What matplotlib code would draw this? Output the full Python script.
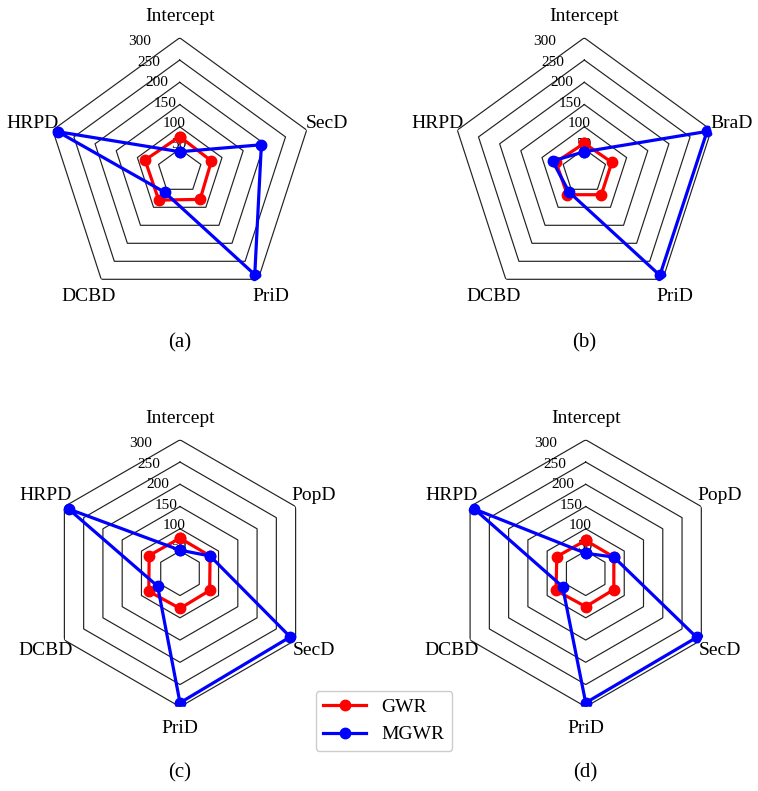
import numpy as np
import matplotlib
matplotlib.use('Agg')
import matplotlib.pyplot as plt

plt.rcParams['font.family'] = ['Liberation Serif', 'DejaVu Serif']

# bandwidths
labels_a = ['Intercept', 'SecD', 'PriD', 'DCBD', 'HRPD']
gwr_a = [78, 75, 78, 80, 82]
mgwr_a = [44, 193, 287, 58, 288]

labels_b = ['Intercept', 'BraD', 'PriD', 'DCBD', 'HRPD']
gwr_b = [63, 65, 65, 65, 67]
mgwr_b = [44, 290, 289, 58, 75]

labels_c = ['Intercept', 'PopD', 'SecD', 'PriD', 'DCBD', 'HRPD']
gwr_c = [79, 78, 77, 79, 81, 80]
mgwr_c = [52, 78, 286, 291, 58, 289]

labels_d = ['Intercept', 'PopD', 'SecD', 'PriD', 'DCBD', 'HRPD']
gwr_d = [74, 73, 73, 75, 77, 75]
mgwr_d = [45, 73, 288, 291, 60, 289]

rings = [50, 100, 150, 200, 250, 300]
panel_tags = ['(a)', '(b)', '(c)', '(d)']

W, H = 758, 791
R = 133.5  # px
centers = [(179.7, 171.3), (584.3, 171.3), (180.0, 573.3), (585.7, 573.3)]
tag_y = [343, 343, 773, 773]

fig = plt.figure(figsize=(W/100, H/100), dpi=100)

panels = [(labels_a, gwr_a, mgwr_a), (labels_b, gwr_b, mgwr_b),
          (labels_c, gwr_c, mgwr_c), (labels_d, gwr_d, mgwr_d)]

for i, (labels, gwr, mgwr) in enumerate(panels):
    cx, cy = centers[i]
    ax = fig.add_axes([(cx-R)/W, (H-cy-R)/H, 2*R/W, 2*R/H], projection='polar')
    ax.set_theta_zero_location('N')
    ax.set_theta_direction(-1)
    n = len(labels)
    theta = np.linspace(0, 2*np.pi, n, endpoint=False)
    tt = np.append(theta, theta[0])

    ax.grid(False)
    ax.spines['polar'].set_visible(False)
    ax.set_xticks([])
    for r in rings:
        ax.plot(tt, [r]*(n+1), color='#222222', lw=0.85, zorder=1)
    ax.set_ylim(0, 300)
    ax.set_yticks(rings)
    ax.set_yticklabels([str(r) for r in rings], fontsize=11)
    ax.set_rlabel_position(-22.5)

    ax.plot(tt, np.append(gwr, gwr[0]), '-o', color='red', lw=2.3, ms=7.5,
            label='GWR', zorder=3)
    ax.plot(tt, np.append(mgwr, mgwr[0]), '-o', color='blue', lw=2.3, ms=7.5,
            label='MGWR', zorder=4)

    for th, lab in zip(theta, labels):
        ax.text(th, 348, lab, ha='center', va='center', fontsize=14, clip_on=False)

    fig.text(cx/W, 1-tag_y[i]/H, panel_tags[i], ha='center', va='center', fontsize=15)

    if i == 2:
        handles, hl = ax.get_legend_handles_labels()

fig.legend(handles, hl, loc='center', bbox_to_anchor=(384/W, 1-721/H),
           fontsize=14, handlelength=2.2, framealpha=1)

fig.savefig('out.png', dpi=100)
